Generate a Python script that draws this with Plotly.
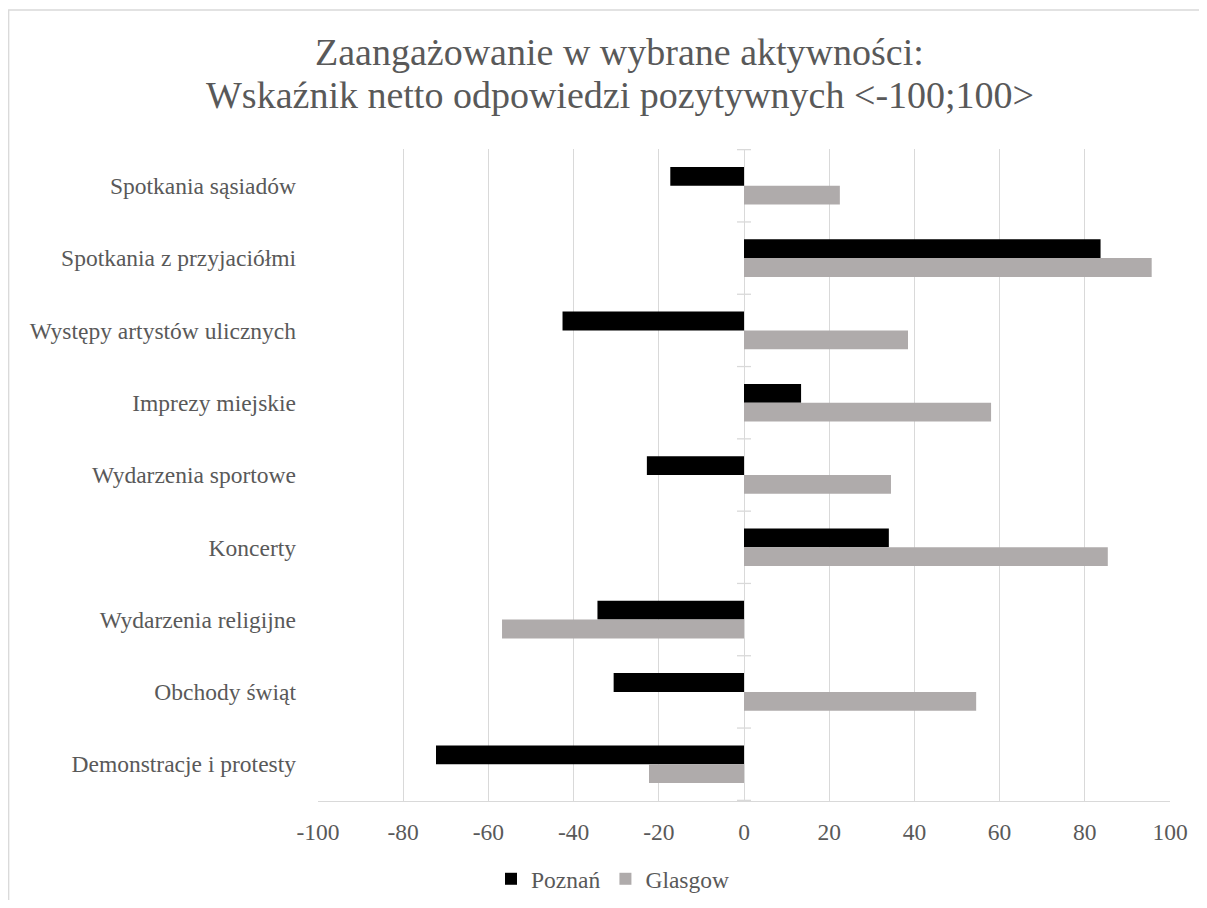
import plotly.graph_objects as go

categories = [
    "Spotkania sąsiadów",
    "Spotkania z przyjaciółmi",
    "Występy artystów ulicznych",
    "Imprezy miejskie",
    "Wydarzenia sportowe",
    "Koncerty",
    "Wydarzenia religijne",
    "Obchody świąt",
    "Demonstracje i protesty",
]
poznan = [-17.3, 83.7, -42.6, 13.4, -22.8, 34.0, -34.4, -30.6, -72.3]
glasgow = [22.5, 95.7, 38.5, 58.0, 34.5, 85.4, -56.8, 54.5, -22.3]
x_ticks = list(range(-100, 101, 20))
title_lines = ["Zaangażowanie w wybrane aktywności:",
               "Wskaźnik netto odpowiedzi pozytywnych &lt;-100;100&gt;"]

FONT = "Liberation Serif, Times New Roman, serif"
TXT = "#595959"
GRID = "#D9D9D9"
FS = 23.5

# page coordinates -> paper coordinates (plot area: x 318..1170, y 149..801 on page)
def px(X):
    return (X - 318) / 852

def py(Y):
    return (801 - Y) / 652

fig = go.Figure()
fig.add_trace(go.Bar(y=categories, x=poznan, name="Poznań", orientation="h",
                     marker=dict(color="#000000", line=dict(width=0))))
fig.add_trace(go.Bar(y=categories, x=glasgow, name="Glasgow", orientation="h",
                     marker=dict(color="#AFABAB", line=dict(width=0))))

shapes = []
for i in range(len(categories) + 1):
    shapes.append(dict(type="line", xref="x", yref="y", xsizemode="pixel", xanchor=0,
                       x0=-7, x1=7, y0=i - 0.5, y1=i - 0.5,
                       line=dict(color=GRID, width=1.3), layer="below"))
shapes.append(dict(type="rect", xref="paper", yref="paper",
                   x0=px(8.7), x1=px(1240), y0=py(940), y1=py(10),
                   line=dict(color=GRID, width=1.3), fillcolor="rgba(0,0,0,0)", layer="below"))

annotations = [
    dict(text=title_lines[0], xref="paper", yref="paper", x=px(619), y=py(52),
         xanchor="center", yanchor="middle", showarrow=False,
         font=dict(family=FONT, size=38, color=TXT)),
    dict(text=title_lines[1], xref="paper", yref="paper", x=px(620), y=py(95),
         xanchor="center", yanchor="middle", showarrow=False,
         font=dict(family=FONT, size=38, color=TXT)),
]

fig.update_layout(
    width=1191, height=892,
    margin=dict(l=310, r=29, t=141, b=99, autoexpand=False),
    paper_bgcolor="white", plot_bgcolor="white",
    barmode="group", bargap=0.48, bargroupgap=0,
    font=dict(family=FONT, color=TXT, size=FS),
    xaxis=dict(range=[-100, 100], tickvals=x_ticks, ticktext=[str(v) for v in x_ticks],
               showgrid=True, gridcolor=GRID, gridwidth=1.3,
               zeroline=True, zerolinecolor=GRID, zerolinewidth=1.3,
               showline=True, linecolor=GRID, linewidth=1.3,
               ticks="", ticklabelstandoff=10, automargin=False,
               tickfont=dict(family=FONT, size=FS, color=TXT), fixedrange=True),
    yaxis=dict(autorange="reversed", showgrid=False, zeroline=False, showline=False,
               ticks="", ticklabelstandoff=21, automargin=False,
               tickfont=dict(family=FONT, size=FS, color=TXT), fixedrange=True),
    legend=dict(orientation="h", x=px(613), xanchor="center",
                y=py(879), yanchor="middle",
                font=dict(family=FONT, size=FS, color=TXT), itemwidth=30,
                traceorder="normal"),
    shapes=shapes,
    annotations=annotations,
)

fig.write_html("out.html")
